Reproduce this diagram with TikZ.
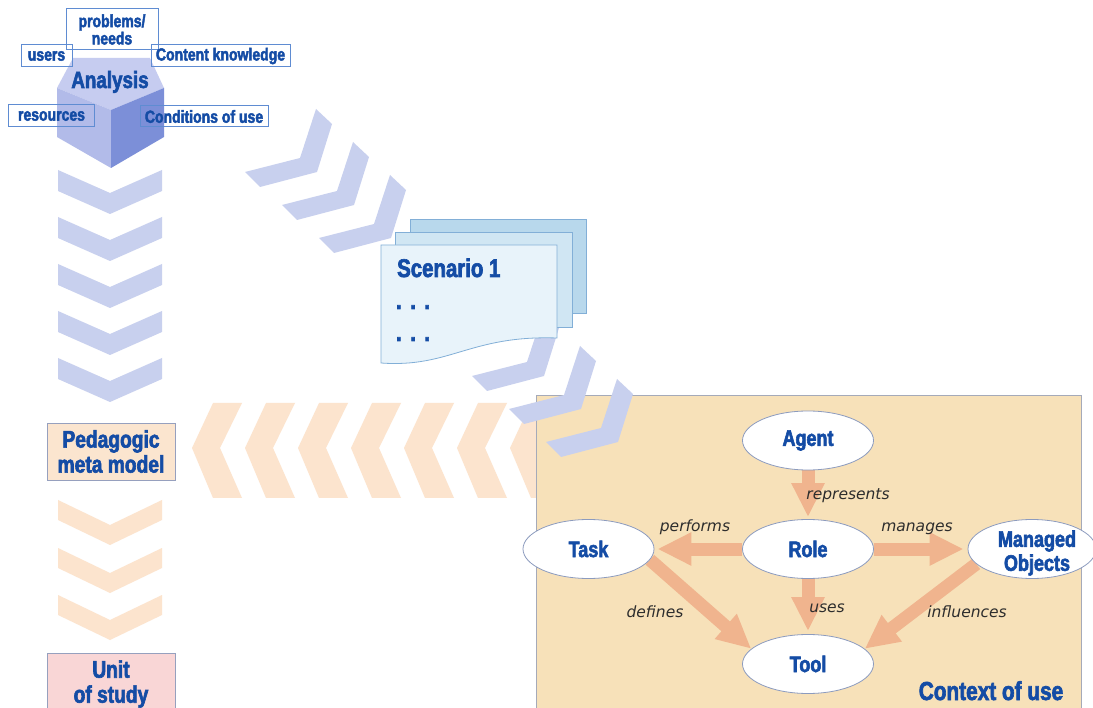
\documentclass[tikz,border=0pt]{standalone}
\usepackage{fontspec}
\usetikzlibrary{shapes.geometric,arrows.meta}
\newfontfamily\condfont{Liberation Sans Bold}[FakeStretch=0.8,FakeBold=2.5]
\newfontfamily\labfont{DejaVu Sans}
\newcommand\cfnt[2]{\condfont\fontsize{#1}{#2}\selectfont}
\definecolor{nodeblue}{RGB}{20,76,165}
\definecolor{lav}{RGB}{200,208,238}
\definecolor{peach}{RGB}{252,228,206}
\definecolor{ctxfill}{RGB}{247,225,185}
\definecolor{ctxborder}{RGB}{165,170,185}
\definecolor{paperA}{RGB}{184,216,236}
\definecolor{paperB}{RGB}{208,230,243}
\definecolor{paperC}{RGB}{232,243,250}
\definecolor{paperborder}{RGB}{130,175,215}
\definecolor{pedfill}{RGB}{251,229,207}
\definecolor{unitfill}{RGB}{249,214,214}
\definecolor{gboxborder}{RGB}{150,160,190}
\definecolor{cubetop}{RGB}{198,204,240}
\definecolor{cubeleft}{RGB}{178,187,233}
\definecolor{cuberight}{RGB}{124,143,216}
\definecolor{lboxborder}{RGB}{95,140,210}
\definecolor{ellborder}{RGB}{140,155,190}
\definecolor{arrowc}{RGB}{240,180,142}
\definecolor{labgray}{RGB}{45,45,45}
\pgfdeclarelayer{back}
\pgfdeclarelayer{mid}
\pgfsetlayers{back,mid,main}
\tikzset{
  ell/.style={ellipse, draw=ellborder, fill=white, line width=0.8pt, minimum width=131pt, minimum height=59pt, inner sep=0pt},
  ntext/.style={font=\cfnt{22.5}{24}, text=nodeblue, align=center, inner sep=0pt},
  flow/.style={draw=arrowc, line width=13pt, -{Triangle[length=34pt,width=31pt]}},
  rel/.style={font=\labfont\itshape\fontsize{15.5}{18}\selectfont, text=labgray, inner sep=0pt, anchor=base},
  lbox/.style={draw=lboxborder, line width=1pt, font=\cfnt{17.5}{16}, text=nodeblue, inner sep=0pt, align=center},
  gbox/.style={draw=gboxborder, line width=0.8pt, inner sep=0pt, align=center, text=nodeblue, font=\cfnt{24}{25}, minimum width=128pt},
  paper/.style={draw=paperborder, line width=0.8pt}
}
\begin{document}
\begin{tikzpicture}[x=1pt,y=-1pt]
\useasboundingbox (0,0) rectangle (1093,708);
\begin{pgfonlayer}{back}
\fill[white] (0,0) rectangle (1093,708);
% horizontal orange chevrons
\foreach \x in {192,245,298,351,404,457,510}
  \fill[peach] (\x,448) -- (\x+21,403) -- (\x+50,403) -- (\x+28,448) -- (\x+50,498) -- (\x+21,498) -- cycle;
% context box
\draw[draw=ctxborder, fill=ctxfill, line width=0.8pt] (536,395) rectangle (1081,716);
% vertical chevrons
\foreach \y in {170,217,264,311,358}
  \fill[lav] (58,\y) -- (110,\y+23) -- (162,\y) -- (162,\y+21) -- (110,\y+44) -- (58,\y+21) -- cycle;
\foreach \y in {500,548,595}
  \fill[peach] (58,\y) -- (110,\y+25) -- (162,\y) -- (162,\y+20) -- (110,\y+45) -- (58,\y+20) -- cycle;
% diagonal chevrons (first group)
\foreach \dx/\dy in {0/0,37/33,74/66,227/204}
  \fill[lav, shift={(\dx,\dy)}] (245,172) -- (300,158) -- (316,109) -- (332,124) -- (317,172) -- (260,187) -- cycle;
% scenario papers
\draw[paper, fill=paperA] (410,219) rectangle (586,313);
\draw[paper, fill=paperB] (395,232) rectangle (572,327);
\draw[paper, fill=paperC] (381,245) -- (557,245) -- (557,338) .. controls (470,335) and (450,368) .. (381,363) -- cycle;
% diagonal chevrons over context box
\foreach \dx/\dy in {264/237,301/270}
  \fill[lav, shift={(\dx,\dy)}] (245,172) -- (300,158) -- (316,109) -- (332,124) -- (317,172) -- (260,187) -- cycle;
\end{pgfonlayer}

\node[anchor=base west, font=\cfnt{25.5}{28}, text=nodeblue, inner sep=0pt] (scen) at (397,277) {Scenario 1};
\node[anchor=base west, font=\cfnt{25}{28}, text=nodeblue, inner sep=0pt] (dotsA) at (396,309) {.\kern3pt\ .\kern3pt\ .};
\node[anchor=base west, font=\cfnt{25}{28}, text=nodeblue, inner sep=0pt] (dotsB) at (396,341) {.\kern3pt\ .\kern3pt\ .};

% left column boxes
\node[gbox, fill=pedfill, minimum height=57pt] (ped) at (111,451.5) {Pedagogic\\meta model};
\node[gbox, fill=unitfill, minimum height=62pt] (unit) at (111,684) {Unit\\of study};

% cube
\fill[cubetop] (73,58) -- (150,58) -- (164,88) -- (111,110) -- (57,88) -- cycle;
\fill[cubeleft] (57,88) -- (111,110) -- (111,168) -- (57,137) -- cycle;
\fill[cuberight] (111,110) -- (164,88) -- (164,137) -- (111,168) -- cycle;
\node[anchor=base, font=\cfnt{23.5}{25}, text=nodeblue, inner sep=0pt] (analysis) at (110,88) {Analysis};
\node[lbox, minimum width=92pt, minimum height=41pt] (needs) at (112,29.5) {problems/\\needs};
\node[lbox, minimum width=51pt, minimum height=22pt] (users) at (46.5,56) {users};
\node[lbox, minimum width=139pt, minimum height=22pt] (content) at (220.5,56) {Content knowledge};
\node[lbox, minimum width=86pt, minimum height=22pt] (resources) at (51.5,116) {resources};
\node[lbox, minimum width=128pt, minimum height=21pt] (conditions) at (204,116.5) {Conditions of use};

% context of use graph
\node[ell] (agent) at (808,440.5) {};
\node[ell] (role) at (808,549) {};
\node[ell] (tool) at (808,664) {};
\node[ell] (task) at (588.5,549) {};
\node[ell, minimum width=128pt] (managed) at (1032,549) {};
\node[ntext] (agentT) at (agent) {Agent};
\node[ntext] (roleT) at (role) {Role};
\node[ntext] (toolT) at (tool) {Tool};
\node[ntext] (taskT) at (task) {Task};
\node[ntext] (managedT) at (1037,553) {Managed\\Objects};

\begin{pgfonlayer}{mid}
\draw[flow, shorten >=2pt] (agent) -- (role);
\draw[flow, shorten >=3pt] (role) -- (task);
\draw[flow, shorten >=4pt] (role) -- (managed);
\draw[flow, shorten >=3pt] (role) -- (tool);
\draw[flow] (task.-10) -- (tool.165);
\draw[flow] (managed.195) -- (tool.15);
\end{pgfonlayer}

\node[rel] (lrep) at (848,500) {represents};
\node[rel] (lperf) at (695,532) {performs};
\node[rel] (lman) at (917,532) {manages};
\node[rel] (luses) at (827,612) {uses};
\node[rel] (ldef) at (655,617) {defines};
\node[rel] (linf) at (967,617) {influences};

\node[anchor=base, font=\cfnt{26}{28}, text=nodeblue, inner sep=0pt] (ctxlabel) at (991,700) {Context of use};
\end{tikzpicture}
\end{document}
